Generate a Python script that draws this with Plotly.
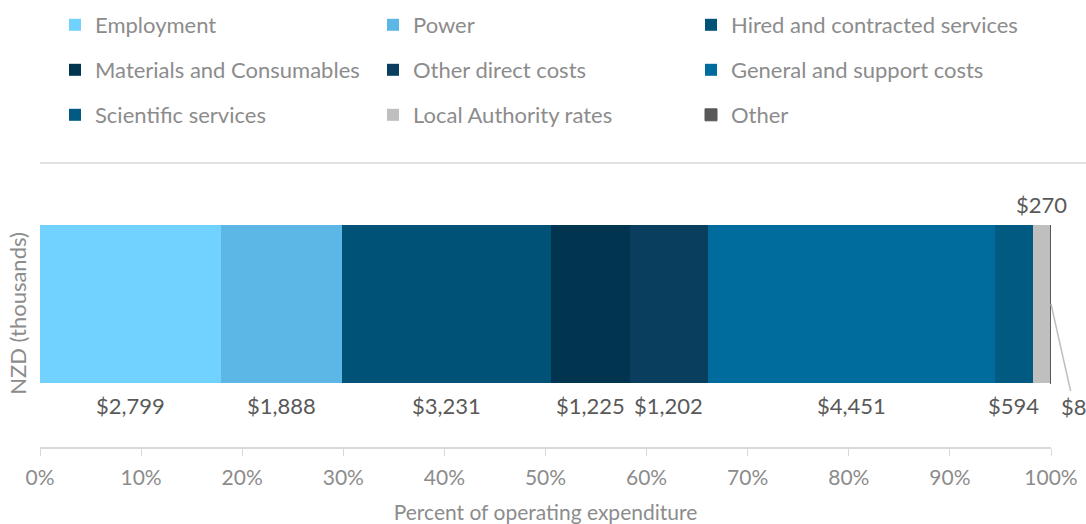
import plotly.graph_objects as go

categories = ["Employment", "Power", "Hired and contracted services",
              "Materials and Consumables", "Other direct costs", "General and support costs",
              "Scientific services", "Local Authority rates", "Other"]
values = [2799, 1888, 3231, 1225, 1202, 4451, 594, 270, 8]
colors = ["#71D2FF", "#5DB7E6", "#005277", "#00344F", "#0A3E5E", "#006C9E",
          "#005A82", "#BFBFBF", "#595959"]
x_ticks = list(range(0, 101, 10))

W, H = 1086, 524
total = sum(values)
pct = [v / total * 100 for v in values]
FONT = "Lato, Open Sans, sans-serif"

fig = go.Figure()
legend_pos = [(75, 26), (393, 26), (711, 26),
              (75, 71), (393, 71), (711, 71),
              (75, 116), (393, 116), (711, 116)]
for i, (c, v, p, col) in enumerate(zip(categories, values, pct, colors)):
    lg = "legend" if i == 0 else f"legend{i+1}"
    fig.add_trace(go.Bar(
        y=[0], x=[p], name=c, orientation="h", width=1,
        marker=dict(color=col, line=dict(width=1 if c == "Other" else 0, color=col)),
        legend=lg, hoverinfo="skip",
    ))

legend_font = dict(family=FONT, size=22, color="#8C8C8C")
for i, (px, py) in enumerate(legend_pos):
    key = "legend" if i == 0 else f"legend{i+1}"
    fig.update_layout(**{key: dict(
        x=(px - 20) / W, y=1 - (py - 1) / H, xref="container", yref="container",
        xanchor="left", yanchor="middle", orientation="h",
        font=legend_font, bgcolor="rgba(0,0,0,0)", itemwidth=30,
    )})

label_font = dict(family=FONT, size=22, color="#595959")
annotations = []
cum = 0
for i, (v, p) in enumerate(zip(values, pct)):
    center = cum + p / 2
    cum += p
    txt = f"${v:,}"
    if i <= 6:
        annotations.append(dict(x=center, y=-0.645, text=txt, showarrow=False,
                                xref="x", yref="y", font=label_font))
    elif i == 7:
        annotations.append(dict(x=center, y=0.627, text=txt, showarrow=False,
                                xref="x", yref="y", font=label_font))
    else:
        annotations.append(dict(x=100, y=0, text=txt, showarrow=True, arrowhead=0,
                                ax=23, ay=102, arrowcolor="#BFBFBF", arrowwidth=1.5,
                                xref="x", yref="y", xanchor="center", font=label_font))

plot_h = 524 - 180 - 77
fig.update_layout(
    width=W, height=H, barmode="stack",
    margin=dict(l=40, r=35, t=180, b=77, autoexpand=False),
    plot_bgcolor="white", paper_bgcolor="white",
    showlegend=True,
    annotations=annotations,
    xaxis=dict(range=[0, 100], tickvals=x_ticks, ticktext=[f"{t}%" for t in x_ticks],
               showgrid=False, zeroline=False, showline=True, linecolor="#D9D9D9", linewidth=1.5,
               ticks="outside", ticklen=7, tickcolor="#D9D9D9", ticklabelstandoff=4,
               automargin=False,
               tickfont=dict(family=FONT, size=21, color="#8C8C8C"),
               title=dict(text="Percent of operating expenditure", standoff=22,
                          font=dict(family=FONT, size=21, color="#8C8C8C"))),
    yaxis=dict(range=[-0.905, 0.785], showticklabels=False, showgrid=False, zeroline=False,
               showline=False, fixedrange=True, automargin=False,
               title=dict(text="NZD (thousands)", standoff=6,
                          font=dict(family=FONT, size=22, color="#8C8C8C"))),
    shapes=[dict(type="line", xref="paper", yref="paper", x0=0, x1=1.035,
                 y0=1 + 17 / plot_h, y1=1 + 17 / plot_h, line=dict(color="#D9D9D9", width=1.5))],
)

fig.write_html("out.html", config={"displayModeBar": False},
               post_script="document.body.style.margin='0';")
